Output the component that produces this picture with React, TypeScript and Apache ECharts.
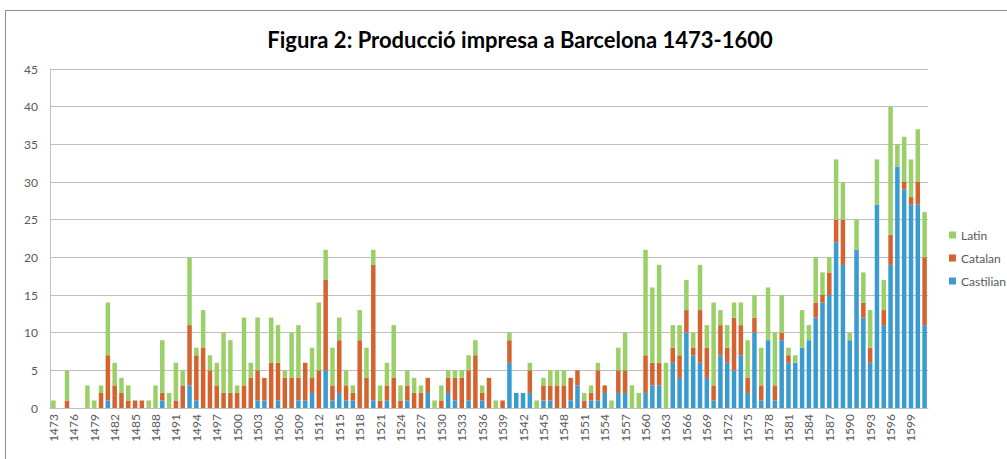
import { useEffect, useRef } from 'react';
import * as echarts from 'echarts';

const firstYear = 1473;
const lastYear = 1601;
const years: string[] = [];
for (let y = firstYear; y <= lastYear; y++) years.push(String(y));

// rows of 10 years starting at 1473
const castilian = [
  0, 0, 0, 0, 0, 0, 0, 0, 1, 0,
  0, 0, 0, 0, 0, 0, 1, 0, 0, 0,
  3, 1, 0, 0, 0, 0, 0, 0, 0, 0,
  1, 1, 0, 1, 0, 0, 1, 1, 2, 0,
  5, 1, 2, 1, 1, 0, 0, 1, 0, 1,
  0, 0, 1, 0, 0, 2, 0, 0, 2, 1,
  0, 1, 0, 1, 0, 0, 0, 6, 2, 2,
  2, 0, 1, 1, 0, 0, 1, 3, 0, 1,
  1, 2, 0, 2, 2, 0, 0, 2, 3, 3,
  0, 6, 4, 10, 7, 6, 4, 1, 7, 6,
  5, 7, 2, 10, 1, 9, 1, 9, 6, 6,
  8, 9, 12, 14, 15, 22, 19, 9, 21, 12,
  6, 27, 11, 19, 32, 29, 27, 27, 11,
];

const catalan = [
  0, 0, 1, 0, 0, 0, 0, 2, 6, 3,
  2, 1, 1, 1, 0, 0, 1, 0, 1, 3,
  8, 6, 8, 5, 3, 2, 2, 2, 3, 4,
  4, 3, 6, 5, 4, 4, 3, 5, 2, 5,
  12, 2, 7, 2, 1, 9, 4, 18, 1, 2,
  4, 1, 2, 2, 2, 2, 0, 1, 2, 3,
  4, 4, 7, 1, 4, 0, 1, 3, 0, 0,
  3, 0, 2, 2, 3, 3, 3, 2, 1, 1,
  4, 1, 0, 3, 3, 0, 0, 5, 3, 3,
  0, 2, 3, 3, 1, 7, 4, 2, 4, 2,
  7, 4, 2, 2, 2, 0, 2, 1, 1, 0,
  0, 0, 2, 1, 3, 3, 6, 0, 0, 2,
  2, 0, 2, 4, 0, 1, 1, 3, 9,
];

const latin = [
  1, 0, 4, 0, 0, 3, 1, 1, 7, 3,
  2, 2, 0, 0, 1, 3, 7, 2, 5, 2,
  9, 1, 5, 2, 3, 8, 7, 1, 9, 2,
  7, 0, 6, 5, 1, 6, 7, 0, 4, 9,
  4, 5, 3, 2, 1, 4, 4, 2, 2, 3,
  7, 2, 2, 2, 1, 0, 1, 2, 1, 1,
  1, 2, 2, 1, 0, 1, 0, 1, 0, 0,
  1, 1, 1, 2, 2, 2, 0, 0, 1, 1,
  1, 0, 1, 3, 5, 3, 2, 14, 10, 13,
  6, 3, 4, 4, 2, 6, 3, 11, 2, 3,
  2, 3, 5, 3, 5, 7, 7, 5, 1, 1,
  5, 2, 6, 3, 2, 8, 5, 1, 4, 4,
  5, 6, 4, 17, 3, 6, 5, 7, 6,
];

const titleText = 'Figura 2: Producció impresa a Barcelona 1473-1600';
const legendOrder = ['Latin', 'Catalan', 'Castilian'];

const FONT = 'Lato, "Noto Sans", sans-serif';

export default function App() {
  const ref = useRef<HTMLDivElement>(null);
  useEffect(() => {
    document.body.style.margin = '0';
    const chart = echarts.init(ref.current!, null, { renderer: 'svg' });
    const bar = (name: string, data: number[], color: string) => ({
      name,
      type: 'bar',
      stack: 'total',
      data,
      barCategoryGap: '34%',
      itemStyle: { color },
    });
    chart.setOption({
      animation: false,
      backgroundColor: '#ffffff',
      title: {
        text: titleText,
        left: 515,
        top: 23,
        textAlign: 'center',
        textStyle: { fontFamily: FONT, fontSize: 22, fontWeight: 'bold', color: '#000' },
      },
      graphic: [
        {
          type: 'rect',
          shape: { x: 5.5, y: 10.5, width: 1010, height: 470 },
          style: { fill: 'none', stroke: '#8c8c8c', lineWidth: 1 },
          silent: true,
        },
      ],
      legend: {
        data: legendOrder,
        orient: 'vertical',
        left: 944,
        top: 224,
        itemWidth: 7,
        itemHeight: 7,
        itemGap: 11,
        icon: 'rect',
        textStyle: { fontFamily: FONT, fontSize: 12, color: '#595959' },
      },
      grid: { left: 50, right: 79, top: 69, bottom: 51, containLabel: false },
      xAxis: {
        type: 'category',
        data: years,
        axisLine: { show: true, lineStyle: { color: '#bfbfbf' } },
        axisTick: { show: false },
        axisLabel: {
          interval: 2,
          rotate: 90,
          fontFamily: FONT,
          fontSize: 12,
          color: '#595959',
          margin: 6,
        },
      },
      yAxis: {
        type: 'value',
        min: 0,
        max: 45,
        interval: 5,
        axisLine: { show: true, lineStyle: { color: '#bfbfbf' } },
        axisTick: { show: false },
        splitLine: { lineStyle: { color: '#bfbfbf' } },
        axisLabel: { fontFamily: FONT, fontSize: 12, color: '#595959', margin: 12 },
      },
      series: [
        bar('Castilian', castilian, '#3a9bd1'),
        bar('Catalan', catalan, '#d4632f'),
        bar('Latin', latin, '#9bcf68'),
      ],
    });
    return () => chart.dispose();
  }, []);
  return <div ref={ref} style={{ width: 1007, height: 459 }} />;
}
